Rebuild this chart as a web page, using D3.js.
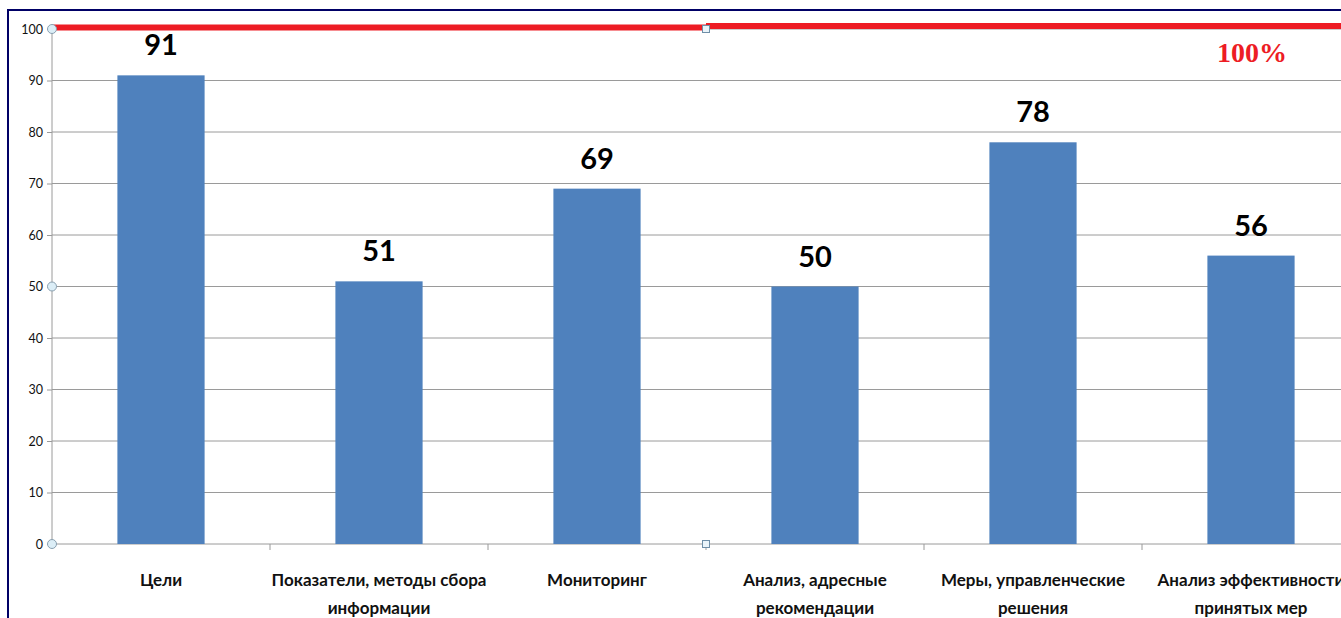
<!DOCTYPE html>
<html>
<head>
<meta charset="utf-8">
<script src="https://cdn.jsdelivr.net/npm/d3@7"></script>
<style>
  body { margin: 0; background: #fff; overflow: hidden; }
  svg { display: block; }
</style>
</head>
<body>
<div id="container"></div>
<script>
// chart data
var categories = [
  ["Цели"],
  ["Показатели, методы сбора", "информации"],
  ["Мониторинг"],
  ["Анализ, адресные", "рекомендации"],
  ["Меры, управленческие", "решения"],
  ["Анализ эффективности", "принятых мер"]
];
var values = [91, 51, 69, 50, 78, 56];
var yTicks = [0, 10, 20, 30, 40, 50, 60, 70, 80, 90, 100];
var target = 100;
var targetLabel = "100%";

var W = 1341, H = 618;
var mLeft = 52, mTop = 29, mBottom = 544;
var band = 218;

var svg = d3.select("#container").append("svg")
  .attr("width", W).attr("height", H);

// frame
svg.append("path")
  .attr("d", "M8,618 L8,10 L1341,10")
  .attr("fill", "none")
  .attr("stroke", "#000066")
  .attr("stroke-width", 2);

var x = d3.scaleBand()
  .domain(d3.range(categories.length))
  .range([mLeft, mLeft + band * categories.length])
  .paddingInner(0.6).paddingOuter(0.3);

var y = d3.scaleLinear().domain([0, 100]).range([mBottom, mTop]);

// grid
svg.append("g").selectAll("line").data(yTicks.filter(d => d > 0)).enter()
  .append("line")
  .attr("x1", mLeft).attr("x2", W)
  .attr("y1", d => y(d)).attr("y2", d => y(d))
  .attr("stroke", "#9a9a9a").attr("stroke-width", 1);

// y axis
var yAxis = d3.axisLeft(y).tickValues(yTicks).tickSize(5).tickPadding(4);
var gy = svg.append("g").attr("transform", "translate(" + mLeft + ",0)").call(yAxis);
gy.select(".domain").attr("stroke", "#9a9a9a").attr("d", "M0," + y(100) + "V" + y(0));
gy.selectAll(".tick line").attr("stroke", "#9a9a9a");
gy.selectAll(".tick text")
  .attr("font-family", "Lato, 'Open Sans', sans-serif")
  .attr("font-size", 12.5).attr("fill", "#111");

// x axis
var gx = svg.append("g").attr("transform", "translate(0," + mBottom + ")");
gx.append("line").attr("x1", mLeft).attr("x2", W).attr("y1", 0).attr("y2", 0)
  .attr("stroke", "#9a9a9a");
gx.selectAll("line.tk").data(d3.range(1, categories.length)).enter()
  .append("line").attr("class", "tk")
  .attr("x1", d => mLeft + band * d).attr("x2", d => mLeft + band * d)
  .attr("y1", 0).attr("y2", 6).attr("stroke", "#9a9a9a");

// bars
svg.append("g").selectAll("rect").data(values).enter()
  .append("rect")
  .attr("x", (d, i) => x(i))
  .attr("y", d => y(d))
  .attr("width", x.bandwidth())
  .attr("height", d => y(0) - y(d))
  .attr("fill", "#4f81bd");

// value labels
svg.append("g").selectAll("text").data(values).enter()
  .append("text")
  .attr("x", (d, i) => x(i) + x.bandwidth() / 2)
  .attr("y", d => y(d) - 20)
  .attr("text-anchor", "middle")
  .attr("font-family", "Lato, 'Open Sans', sans-serif")
  .attr("font-weight", "bold")
  .attr("font-size", 29)
  .attr("fill", "#000")
  .text(d => d);

// category labels
var cl = svg.append("g").selectAll("text").data(categories).enter()
  .append("text")
  .attr("text-anchor", "middle")
  .attr("font-family", "Lato, 'Open Sans', sans-serif")
  .attr("font-weight", "bold")
  .attr("font-size", 17)
  .attr("fill", "#111");
cl.selectAll("tspan").data((d, i) => d.map(t => ({ t: t, i: i }))).enter()
  .append("tspan")
  .attr("x", d => x(d.i) + x.bandwidth() / 2)
  .attr("y", (d, j) => 586 + j * 28)
  .text(d => d.t);

// target line (100%)
svg.append("line")
  .attr("x1", mLeft).attr("x2", mLeft + band * 3)
  .attr("y1", y(target) - 1.5).attr("y2", y(target) - 1.5)
  .attr("stroke", "#ed1c24").attr("stroke-width", 6);
svg.append("line")
  .attr("x1", mLeft + band * 3).attr("x2", W)
  .attr("y1", y(target) - 3).attr("y2", y(target) - 3)
  .attr("stroke", "#ed1c24").attr("stroke-width", 6);

svg.append("text")
  .attr("x", 1252).attr("y", 62)
  .attr("text-anchor", "middle")
  .attr("font-family", "'Liberation Serif', 'Times New Roman', serif")
  .attr("font-weight", "bold")
  .attr("font-size", 28)
  .attr("fill", "#ed1c24")
  .text(targetLabel);

// selection handles
var handles = [[mLeft, y(100), "c"], [mLeft, y(50), "c"], [mLeft, y(0), "c"],
  [mLeft + band * 3, y(100), "s"], [mLeft + band * 3, y(0), "s"]];
handles.forEach(function (h) {
  if (h[2] === "c") {
    svg.append("circle").attr("cx", h[0]).attr("cy", h[1]).attr("r", 4.5)
      .attr("fill", "#dceef7").attr("stroke", "#8aa0b0").attr("stroke-width", 1);
  } else {
    svg.append("rect").attr("x", h[0] - 3.5).attr("y", h[1] - 3.5)
      .attr("width", 7).attr("height", 7)
      .attr("fill", "#eaf4fa").attr("stroke", "#6f8fa8").attr("stroke-width", 1);
  }
});
</script>
</body>
</html>
